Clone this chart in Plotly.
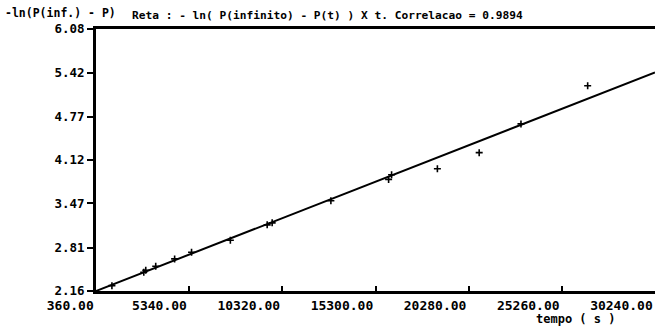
import plotly.graph_objects as go

# ---- data ----
tempo = [1211, 2914, 3020, 3552, 4563, 5467, 7542, 9510, 9776, 12915,
         16001, 16160, 18608, 20842, 23076, 26641]
ln_val = [2.24, 2.44, 2.47, 2.53, 2.64, 2.74, 2.92, 3.15, 3.18, 3.51,
          3.83, 3.90, 3.99, 4.23, 4.66, 5.23]
fit_t = [360, 30240]
fit_y = [2.16, 5.43]

x_ticks = [360, 5340, 10320, 15300, 20280, 25260, 30240]
x_labels = ["360.00", "5340.00", "10320.00", "15300.00", "20280.00", "25260.00", "30240.00"]
y_ticks = [2.16, 2.81, 3.47, 4.12, 4.77, 5.42, 6.08]
y_labels = ["2.16", "2.81", "3.47", "4.12", "4.77", "5.42", "6.08"]

y_title = "-ln(P(inf.) - P)"
main_title = "Reta : - ln( P(infinito) - P(t) ) X t. Correlacao = 0.9894"
x_title = "tempo ( s )"

# ---- layout geometry ----
W, H = 655, 328
L, R, T, B = 96, 0, 29, 37
pw, ph = W - L - R, H - T - B

def px_x(px):
    return (px - L) / pw

def px_y(py):
    return (H - B - py) / ph

FONT = "DejaVu Sans Mono"

fig = go.Figure()
fig.add_trace(go.Scatter(x=fit_t, y=fit_y, mode="lines",
                         line=dict(color="black", width=2), showlegend=False))
fig.add_trace(go.Scatter(x=tempo, y=ln_val, mode="markers",
                         marker=dict(symbol="cross-thin", size=5, color="black",
                                     line=dict(color="black", width=1.6)),
                         showlegend=False))

fig.update_layout(
    width=W, height=H,
    margin=dict(l=L, r=R, t=T, b=B, pad=0),
    paper_bgcolor="white", plot_bgcolor="white",
    font=dict(family=FONT, color="black", size=13, weight="bold"),
    xaxis=dict(range=[360, 30240], tickvals=x_ticks, ticktext=x_labels,
               showgrid=False, zeroline=False, showline=True, linecolor="black",
               linewidth=3, mirror=True, ticks="inside", ticklen=5, tickwidth=1.5,
               tickcolor="black", ticklabelposition="outside left",
               tickfont=dict(family=FONT, size=13, weight="bold", color="black")),
    yaxis=dict(range=[2.16, 6.08], tickvals=y_ticks, ticktext=y_labels,
               showgrid=False, zeroline=False, showline=True, linecolor="black",
               linewidth=3, ticks="outside", ticklen=6, tickwidth=2,
               tickcolor="black",
               tickfont=dict(family=FONT, size=12.5, weight="bold", color="black")),
)

fig.add_annotation(text=y_title, xref="paper", yref="paper",
                   x=px_x(3), y=px_y(22), xanchor="left", yanchor="bottom",
                   showarrow=False,
                   font=dict(family=FONT, size=11.5, weight="bold", color="black"))
fig.add_annotation(text=main_title, xref="paper", yref="paper",
                   x=px_x(130), y=px_y(24), xanchor="left", yanchor="bottom",
                   showarrow=False,
                   font=dict(family=FONT, size=11.2, weight="bold", color="black"))
fig.add_annotation(text=x_title, xref="paper", yref="paper",
                   x=px_x(575), y=px_y(328), xanchor="center", yanchor="bottom",
                   showarrow=False,
                   font=dict(family=FONT, size=12, weight="bold", color="black"))

fig.write_html("out.html")
